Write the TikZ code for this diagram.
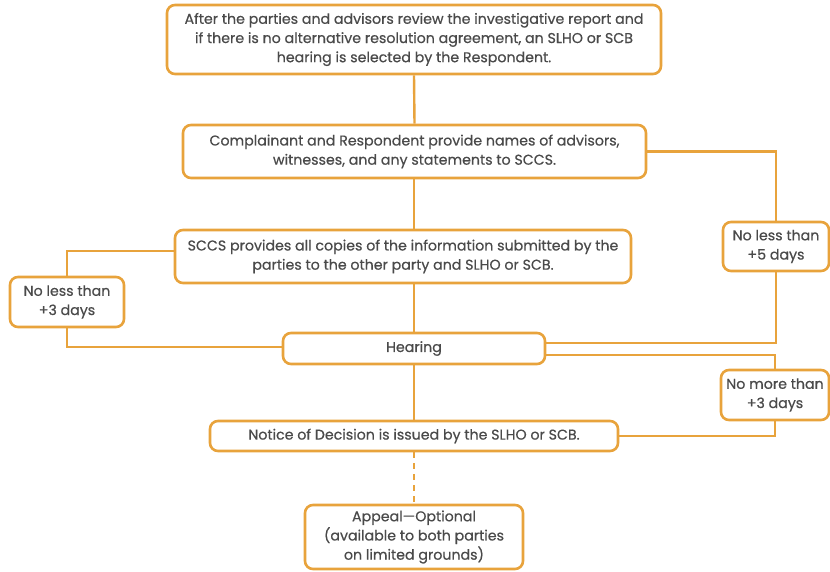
\documentclass[tikz,border=0pt]{standalone}
\usepackage{fontspec}
\setmainfont{Poppins}[FakeBold=0.5]
\usetikzlibrary{calc}
\definecolor{borange}{HTML}{E8A33C}
\definecolor{tgray}{HTML}{4A4A4A}
\begin{document}
\begin{tikzpicture}[x=1pt,y=-1pt,
  box/.style={draw=borange,line width=2.6pt,rounded corners=8pt,fill=white,
    align=center,text=tgray,font=\fontsize{14.2}{19.2}\selectfont,inner sep=0pt},
  conn/.style={draw=borange,line width=2.4pt}]
\useasboundingbox (0,0) rectangle (830,572);
\node[box,minimum width=494pt,minimum height=69pt] (b1) at (414,39.5)
  {After the parties and advisors review the investigative report and\\
   if there is no alternative resolution agreement, an SLHO or SCB\\
   hearing is selected by the Respondent.};
\node[box,minimum width=463pt,minimum height=53pt] (b2) at (414.5,151.5)
  {Complainant and Respondent provide names of advisors,\\
   witnesses, and any statements to SCCS.};
\node[box,minimum width=456pt,minimum height=53pt] (b3) at (403,256.5)
  {SCCS provides all copies of the information submitted by the\\
   parties to the other party and SLHO or SCB.};
\node[box,minimum width=114pt,minimum height=50pt] (tl) at (67,302)
  {No less than\\ +3 days};
\node[box,minimum width=106pt,minimum height=49pt] (five) at (776,246.5)
  {No less than\\ +5 days};
\node[box,minimum width=262pt,minimum height=31pt] (hear) at (414,348.5)
  {Hearing};
\node[box,minimum width=108pt,minimum height=50pt] (nm) at (775,395)
  {No more than\\ +3 days};
\node[box,minimum width=408pt,minimum height=30pt] (notice) at (414,436)
  {Notice of Decision is issued by the SLHO or SCB.};
\node[box,minimum width=218pt,minimum height=64pt] (app) at (414,537)
  {Appeal---Optional\\ (available to both parties\\ on limited grounds)};
\coordinate (b2s) at (414,178);
\coordinate (b3n) at (414,230);
\coordinate (b3s) at (414,283);
\coordinate (b3w) at (175,251);
\coordinate (h1) at (545,343);
\coordinate (h2) at (545,355);
\coordinate (hw) at (283,347);
\draw[conn] (b1.south) -- (b2.north);
\draw[conn] (b2s) -- (b3n);
\draw[conn] (b3s) -- (hear.north);
\draw[conn] (hear.south) -- (notice.north);
\draw[conn,dash pattern=on 6pt off 5pt] (notice.south) -- (app.north);
\draw[conn] (b2.east) -| (five.north);
\draw[conn] (five.south) |- (h1);
\draw[conn] (h2) -| (nm.north);
\draw[conn] (notice.east) -| (nm.south);
\draw[conn] (b3w) -| (tl.north);
\draw[conn] (tl.south) |- (hw);
\end{tikzpicture}
\end{document}
